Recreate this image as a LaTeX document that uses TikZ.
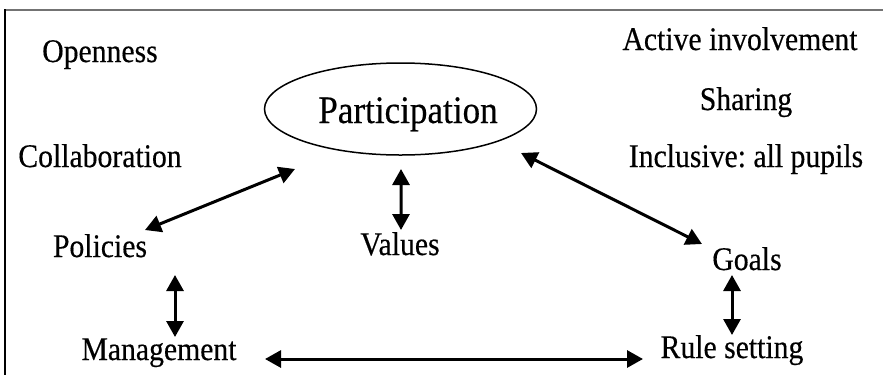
\documentclass[tikz,border=0pt]{standalone}
\usepackage{fontspec}
\setmainfont[FakeStretch=0.9,FakeBold=0.4]{Liberation Serif}
\usetikzlibrary{arrows.meta,shapes.geometric,calc}
\begin{document}
\frenchspacing
\begin{tikzpicture}[x=1bp,y=-1bp,
  lbl/.style={anchor=base,inner sep=0pt,font=\fontsize{33bp}{40bp}\selectfont},
  big/.style={anchor=base,inner sep=0pt,font=\fontsize{39bp}{46bp}\selectfont},
  dbl/.style={line width=3bp,{Triangle[length=16bp,width=17bp]}-{Triangle[length=16bp,width=17bp]}},
  oval/.style={ellipse,draw,line width=1.5bp,minimum width=272bp,minimum height=92bp,inner sep=0pt}]
\useasboundingbox (0,0) rectangle (883,375);
% frame
\draw[line width=2bp,black!55] (5,10) -- (883,10);
\draw[line width=2bp,black] (5,9) -- (5,375);
% text nodes
\node[lbl] (open) at (100,62) {Openness};
\node[lbl] (collab) at (100,167) {Collaboration};
\node[lbl] (active) at (740,50) {Active involvement};
\node[lbl] (share) at (746,110) {Sharing};
\node[lbl] (incl) at (746,167) {Inclusive: all pupils};
\node[oval] (part) at (400.5,109) {};
\node[big] (ptext) at (408,123) {Participation};
\node[lbl] (pol) at (100,257) {Policies};
\node[lbl] (val) at (400,255) {Values};
\node[lbl] (goals) at (747,270) {Goals};
\node[lbl] (mgmt) at (159,360) {Management};
\node[lbl] (rule) at (732,358) {Rule setting};
% connector ends
\coordinate (polA) at ($(pol.base)+(45,-27)$);
\coordinate (partL) at ($(part.center)+(-105.5,60)$);
\coordinate (partB) at ($(part.center)+(0.5,60)$);
\coordinate (valT) at ($(val.base)+(1,-25)$);
\coordinate (partR) at ($(part.center)+(120.5,44)$);
\coordinate (goalsA) at ($(goals.base)+(-45,-26)$);
\coordinate (polB) at ($(pol.base)+(75,18)$);
\coordinate (mgmtT) at ($(mgmt.base)+(16,-23)$);
\coordinate (goalsB) at ($(goals.base)+(-15,5)$);
\coordinate (ruleT) at ($(rule.base)+(0,-23)$);
\coordinate (mgmtR) at ($(mgmt.base)+(106,-1)$);
\coordinate (ruleL) at ($(rule.base)+(-89,1)$);
% connectors
\draw[dbl] (polA) -- (partL);
\draw[dbl] (partB) -- (valT);
\draw[dbl] (partR) -- (goalsA);
\draw[dbl] (polB) -- (mgmtT);
\draw[dbl] (goalsB) -- (ruleT);
\draw[dbl] (mgmtR) -- (ruleL);
\end{tikzpicture}
\end{document}
